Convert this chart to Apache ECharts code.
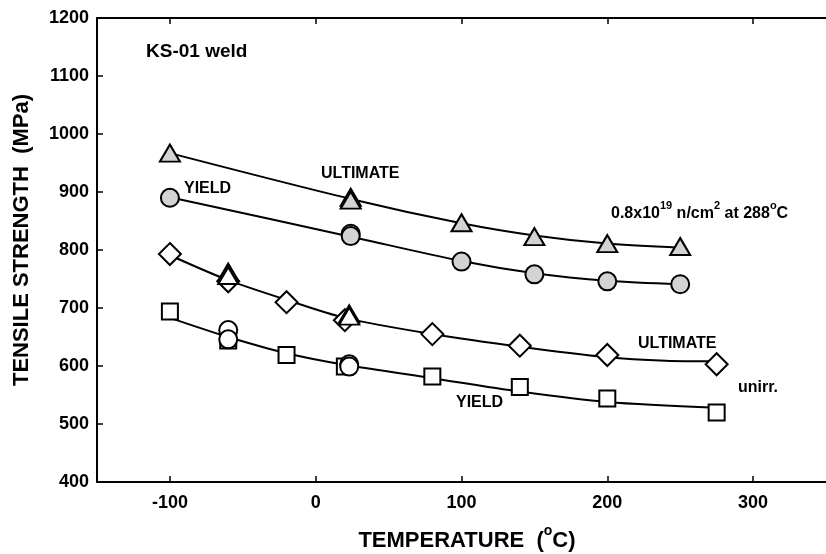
<!DOCTYPE html>
<html>
<head>
<meta charset="utf-8">
<script src="https://cdn.jsdelivr.net/npm/echarts@6/dist/echarts.min.js"></script>
<style>html,body{margin:0;padding:0;background:#fff;}#c{width:826px;height:554px;}</style>
</head>
<body>
<div id="c"></div>
<script>
// ---- data ----
const xTickValues = [-100, 0, 100, 200, 300];

// irradiated (0.8x10^19 n/cm2 at 288C) – grey symbols
const irrUltT = [-100, 24, 24, 100, 150, 200, 250];
const irrUltV = [967, 891, 886, 847, 823, 811, 806];
const irrYieldT = [-100, 24, 24, 100, 150, 200, 250];
const irrYieldV = [890, 828, 824, 780, 758, 746, 741];

// unirradiated – open symbols
const unUltT = [-100, -60, -20, 20, 80, 140, 200, 275];
const unUltV = [793, 746, 710, 679, 655, 635, 619, 603];
const unYieldT = [-100, -60, -20, 20, 80, 140, 200, 275];
const unYieldV = [694, 644, 619, 599, 582, 564, 544, 520];
const unUlt2T = [-60, -60, 23, 23];
const unUlt2V = [762, 756, 690, 686];
const unYield2T = [-60, -60, 23, 23];
const unYield2V = [662, 646, 603, 599];

// fitted curves
const irrUltFitT = [-100, 24, 100, 150, 200, 250];
const irrUltFitV = [967, 888, 846, 825, 811, 804];
const irrYieldFitT = [-100, 24, 100, 150, 200, 250];
const irrYieldFitV = [891, 823, 781, 760, 747, 741];
const unUltFitT = [-100, -60, -20, 20, 80, 140, 200, 240, 275];
const unUltFitV = [791, 748, 714, 683, 655, 633, 615, 609, 608];
const unYieldFitT = [-100, -60, -20, 20, 80, 140, 200, 275];
const unYieldFitV = [683, 650, 622, 602, 579, 556, 538, 528];

const zip = (a, b) => a.map((v, i) => [v, b[i]]);

const FONT = 'Liberation Sans, Arial, Helvetica, sans-serif';
const GREY = '#d3d3d3';

function fit(T, V) {
  return { type: 'line', data: zip(T, V), smooth: 0.3, showSymbol: false, silent: true,
    lineStyle: { color: '#000', width: 2 }, z: 2 };
}
function pts(T, V, symbol, size, fill) {
  return { type: 'scatter', data: zip(T, V), symbol: symbol, symbolSize: size,
    itemStyle: { color: fill, borderColor: '#000', borderWidth: 2, opacity: 1 }, z: 3 };
}

const chart = echarts.init(document.getElementById('c'), null, { renderer: 'canvas' });
const axisLine = { show: true, onZero: false, lineStyle: { color: '#000', width: 2 } };
chart.setOption({
  animation: false,
  backgroundColor: '#fff',
  grid: { left: 97, top: 18, width: 740, height: 464, containLabel: false },
  xAxis: [
    { type: 'value', position: 'bottom', min: -150, max: 350,
      axisLine: axisLine,
      axisTick: { show: true, inside: true, length: 6, customValues: xTickValues, lineStyle: { color: '#000', width: 1.5 } },
      axisLabel: { show: true, customValues: xTickValues, margin: 12, color: '#000', fontFamily: FONT, fontWeight: 'bold', fontSize: 18,
        formatter: v => String(v) },
      splitLine: { show: false } },
    { type: 'value', position: 'top', min: -150, max: 350,
      axisLine: axisLine,
      axisTick: { show: true, inside: true, length: 6, customValues: xTickValues, lineStyle: { color: '#000', width: 1.5 } },
      axisLabel: { show: false }, splitLine: { show: false } }
  ],
  yAxis: [
    { type: 'value', min: 400, max: 1200, interval: 100,
      axisLine: axisLine,
      axisTick: { show: true, inside: true, length: 6, lineStyle: { color: '#000', width: 1.5 } },
      axisLabel: { margin: 8, color: '#000', fontFamily: FONT, fontWeight: 'bold', fontSize: 18, formatter: v => String(v) },
      splitLine: { show: false } }
  ],
  series: [
    fit(irrUltFitT, irrUltFitV),
    fit(irrYieldFitT, irrYieldFitV),
    fit(unUltFitT, unUltFitV),
    fit(unYieldFitT, unYieldFitV),
    pts(unUltT, unUltV, 'diamond', 22, '#fff'),
    pts(unYieldT, unYieldV, 'rect', 16, '#fff'),
    pts(unUlt2T, unUlt2V, 'triangle', [20, 17], '#fff'),
    pts(unYield2T, unYield2V, 'circle', 18, '#fff'),
    pts(irrUltT, irrUltV, 'triangle', [20, 17], GREY),
    pts(irrYieldT, irrYieldV, 'circle', 18, GREY)
  ],
  graphic: [
    { type: 'text', x: 146, y: 52, style: { text: 'KS-01 weld', font: 'bold 19px ' + FONT, fill: '#000', textVerticalAlign: 'middle' } },
    { type: 'text', x: 184, y: 189, style: { text: 'YIELD', font: 'bold 16px ' + FONT, fill: '#000', textVerticalAlign: 'middle' } },
    { type: 'text', x: 321, y: 174, style: { text: 'ULTIMATE', font: 'bold 16px ' + FONT, fill: '#000', textVerticalAlign: 'middle' } },
    { type: 'text', x: 611, y: 211, style: {
        text: '{n|0.8x10}{s|19}{n| n/cm}{s|2}{n| at 288}{s|o}{n|C}',
        textVerticalAlign: 'middle',
        rich: {
          n: { font: 'bold 16px ' + FONT, fill: '#000', lineHeight: 22, verticalAlign: 'bottom' },
          s: { font: 'bold 11px ' + FONT, fill: '#000', lineHeight: 22, verticalAlign: 'top' }
        } } },
    { type: 'text', x: 638, y: 344, style: { text: 'ULTIMATE', font: 'bold 16px ' + FONT, fill: '#000', textVerticalAlign: 'middle' } },
    { type: 'text', x: 456, y: 403, style: { text: 'YIELD', font: 'bold 16px ' + FONT, fill: '#000', textVerticalAlign: 'middle' } },
    { type: 'text', x: 738, y: 388, style: { text: 'unirr.', font: 'bold 16px ' + FONT, fill: '#000', textVerticalAlign: 'middle' } },
    { type: 'text', x: 467, y: 538, style: {
        text: '{n|TEMPERATURE  (}{s|o}{n|C)}', textAlign: 'center', textVerticalAlign: 'middle',
        rich: {
          n: { font: 'bold 22px ' + FONT, fill: '#000', lineHeight: 28, verticalAlign: 'bottom' },
          s: { font: 'bold 14px ' + FONT, fill: '#000', lineHeight: 28, verticalAlign: 'top' }
        } } },
    { type: 'text', x: 22, y: 240, rotation: Math.PI / 2, style: {
        text: 'TENSILE STRENGTH  (MPa)', font: 'bold 22px ' + FONT, fill: '#000',
        textAlign: 'center', textVerticalAlign: 'middle' } }
  ]
});
</script>
</body>
</html>
